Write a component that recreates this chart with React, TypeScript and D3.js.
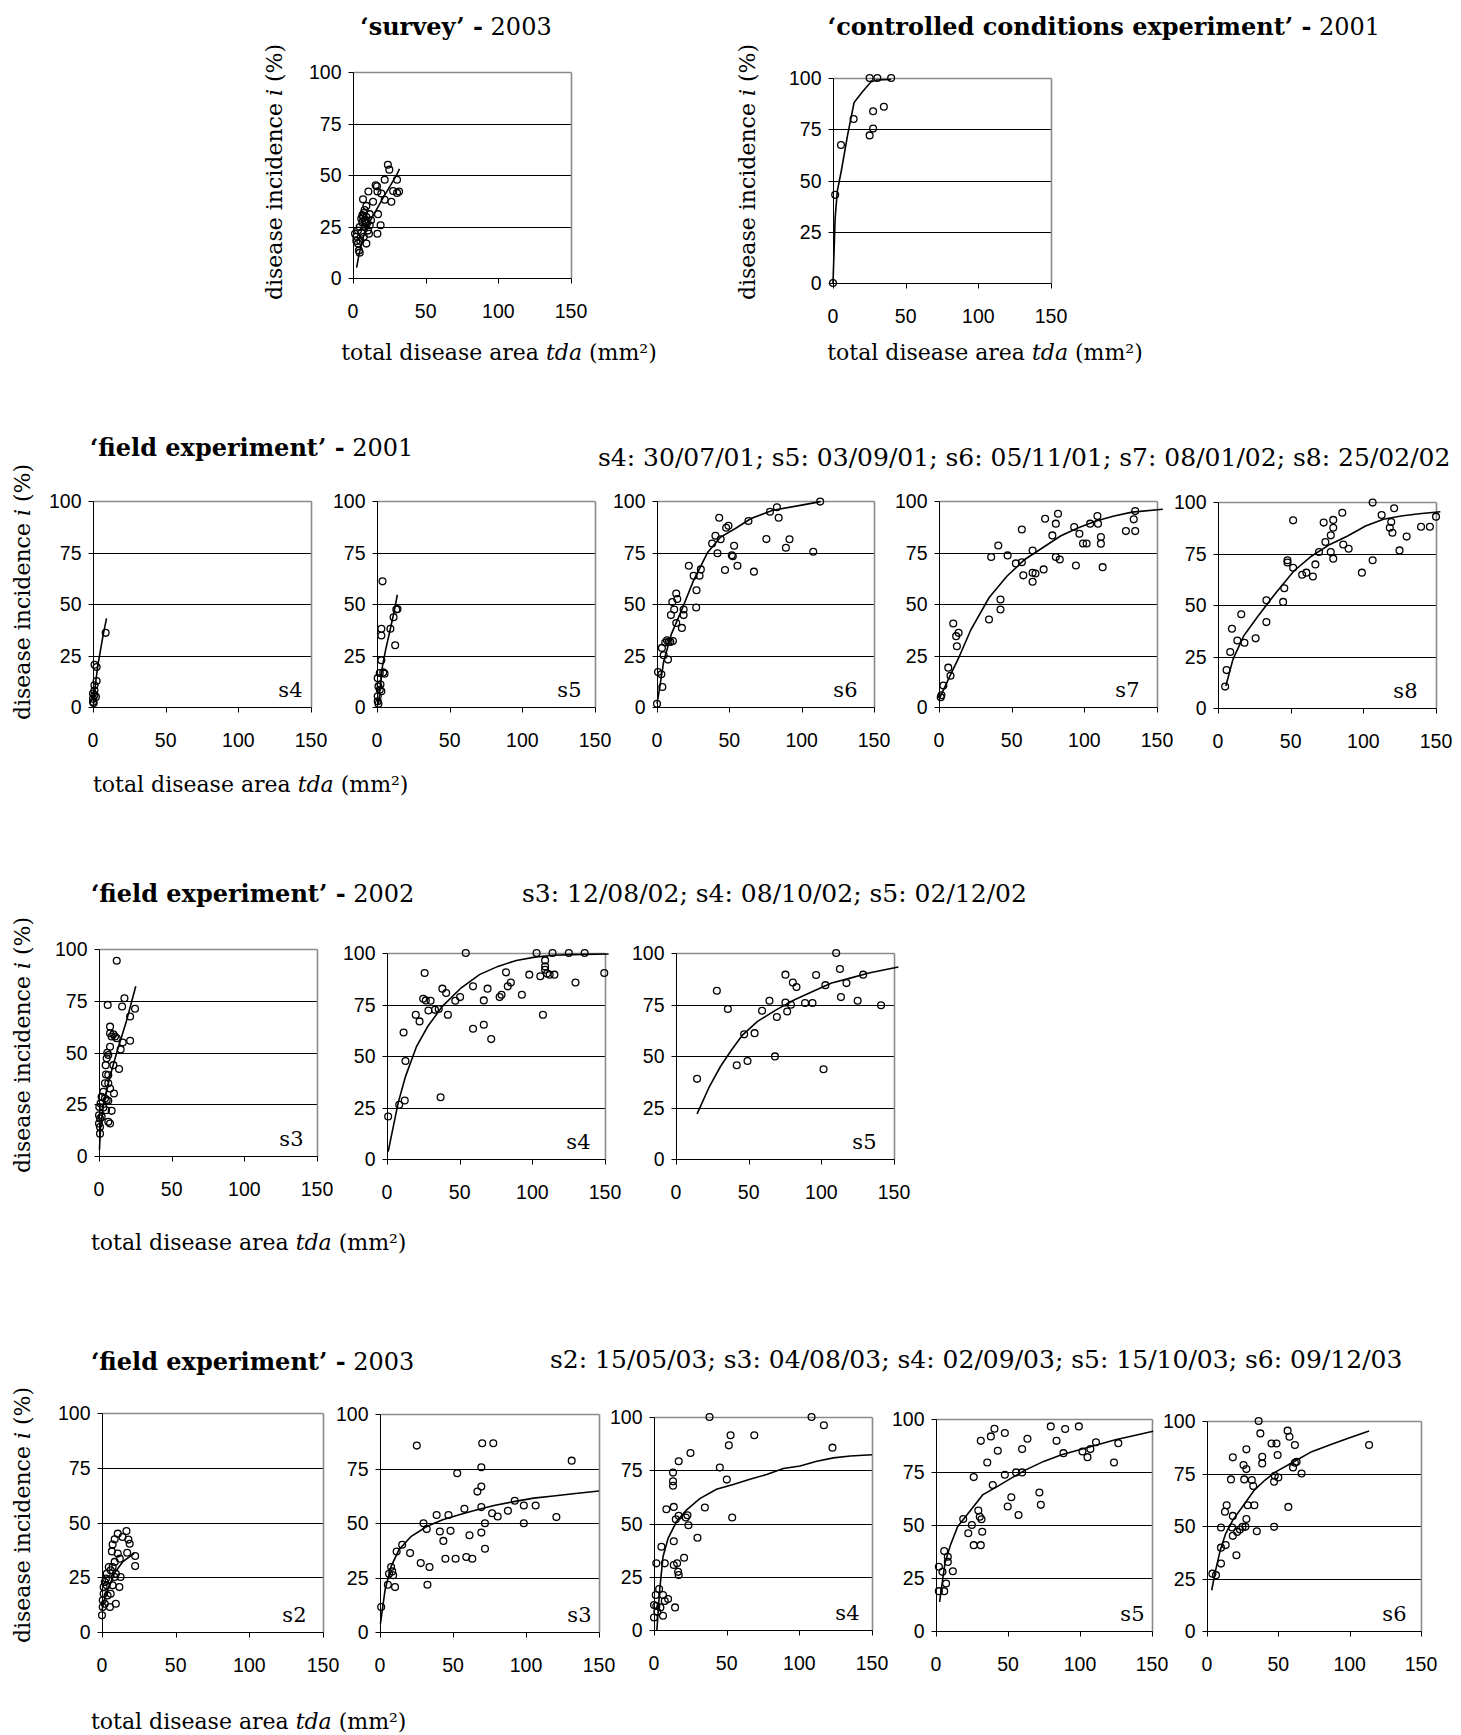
import React from "react";
import * as d3 from "d3";

type Pt = [number, number];

// ---------- shared axis values ----------
const xTickValues = [0, 50, 100, 150];
const yTickValues = [0, 25, 50, 75, 100];
const xDomain: [number, number] = [0, 150];
const yDomain: [number, number] = [0, 100];

// ---------- text ----------
const yAxisTitle = ["disease incidence ", "i", " (%)"];
const xAxisTitle = ["total disease area ", "tda", " (mm²)"];
const dates2001 = "s4: 30/07/01; s5: 03/09/01; s6: 05/11/01; s7: 08/01/02; s8: 25/02/02";
const dates2002 = "s3: 12/08/02; s4: 08/10/02; s5: 02/12/02";
const dates2003 = "s2: 15/05/03; s3: 04/08/03; s4: 02/09/03; s5: 15/10/03; s6: 09/12/03";

// ---------- survey 2003 ----------
const survey2003Points: Pt[] = [
  [1.4, 21.5], [2.3, 18], [2.3, 20], [3.4, 16.7], [3.4, 23], [4.1, 13.4], [4.6, 12.3], [4.6, 24.7],
  [5, 18], [5.7, 22], [5.7, 28.8], [6.4, 27], [6.9, 38.2], [7, 29.6], [7.4, 20], [8, 24.8], [8, 28],
  [8, 33], [9.2, 35], [9.2, 16.7], [9.2, 29.6], [9.6, 26.4], [10.3, 23], [10.6, 42], [11, 21.5],
  [11.5, 31], [11.5, 25.6], [12.4, 28], [13.8, 37], [15.6, 45], [16.5, 44.5], [16.8, 42], [16.8, 21.5],
  [17.2, 31], [19, 25.6], [19.5, 41], [21.8, 47.7], [21.8, 38], [24, 55], [25, 52.6], [26.4, 37],
  [27.6, 42.2], [30.3, 47.7], [30.3, 41.3], [31.7, 42], [6.5, 30.5], [7.5, 31.5], [9, 27]
];
const survey2003Fit: Pt[] = [
  [2.5, 5], [4, 11], [6, 17], [8, 22], [12, 28], [16, 33], [20, 38], [25, 44], [30, 50], [32, 53]
];

// ---------- controlled conditions 2001 ----------
const controlled2001Points: Pt[] = [
  [0, 0], [1.5, 43], [5.5, 67.3], [14.2, 80], [25.2, 100], [30.5, 100], [40, 100], [27.6, 83.8],
  [35, 86], [27.6, 75.4], [25.2, 72]
];
const controlled2001Fit: Pt[] = [
  [0, 0], [1.5, 32], [3, 45], [5.8, 55], [10, 72], [14.5, 88], [20, 93], [26, 98], [30, 99], [40, 99.3]
];

// ---------- field 2001 ----------
const field2001s4Points: Pt[] = [
  [8.7, 36], [1.1, 20.5], [2.5, 19.4], [2.5, 12.6], [1, 10.5], [0, 6.5], [1, 5.7], [0, 4], [0.5, 2],
  [1, 8], [0, 2.4], [2, 4.9]
];
const field2001s4Fit: Pt[] = [[0.3, 1], [1, 6], [2, 13], [3.3, 20], [5, 27], [7, 35], [9.3, 43]];

const field2001s5Points: Pt[] = [
  [3.8, 61], [3, 38], [3, 34.7], [9.2, 38], [11.4, 43.6], [13.3, 47.3], [14.1, 47.6], [12.5, 30],
  [3, 22.7], [1.9, 16.5], [4.3, 16.8], [5.2, 16.2], [0.5, 14], [1, 10], [1.9, 8.4], [3, 7.6],
  [0.5, 5.2], [0.5, 2.8], [1, 1.6], [2.4, 10.9]
];
const field2001s5Fit: Pt[] = [[1, 1], [2, 8], [3.8, 20], [6, 28], [9.2, 38], [12, 47], [14, 54.5]];

const field2001s6Points: Pt[] = [
  [0, 1.6], [0.7, 17], [3, 15.9], [3.7, 9.7], [3.4, 28.7], [4.6, 25.1], [5.7, 31.3], [6.9, 32.4],
  [8, 31.6], [7.6, 23], [9.2, 31.6], [11, 32], [9.6, 44.6], [10.6, 51], [11.9, 47.3], [13.3, 55.1],
  [14, 52.4], [13.3, 40.8], [17.2, 38.4], [18.4, 47.3], [18.4, 44.6], [22, 68.6], [25.3, 63.7],
  [27.3, 56.7], [27.1, 48.3], [29.4, 63.7], [30.3, 66.8], [38.1, 79.4], [40.4, 83.1], [43, 91.9],
  [41.8, 74.6], [44, 81.4], [47, 66.5], [47.8, 87], [49.4, 88], [51.7, 73.7], [53.3, 78.3],
  [52.4, 73.2], [55.6, 68.6], [63.2, 90.3], [67, 65.7], [75.6, 81.5], [78.1, 94.8], [82.9, 97],
  [84.1, 91.9], [89.1, 77.3], [91.6, 81.4], [108, 75.4], [112.8, 99.7]
];
const field2001s6Fit: Pt[] = [
  [0, 1.6], [2, 10], [4.6, 22], [10, 35.5], [17, 47], [25, 61], [35, 75], [44, 82.5], [55, 87],
  [65, 91.5], [80, 95.5], [100, 98], [113, 99.7]
];

const field2001s7Points: Pt[] = [
  [1.2, 4.7], [1.7, 5.7], [3, 10.4], [6.4, 19.1], [7.9, 15.2], [9.8, 40.5], [11.8, 34.4], [13.5, 36],
  [12.3, 29.5], [34.4, 42.5], [35.9, 72.8], [40.8, 78.4], [42.3, 52.2], [42.3, 47.3], [47.2, 73.6],
  [52.9, 69.7], [57, 70.3], [57, 86.2], [58, 63.9], [64.4, 76], [64.4, 65.2], [64.4, 60.8],
  [66.4, 64.8], [72, 66.8], [73, 91.4], [78, 83.3], [80.4, 89], [81.9, 93.8], [80.4, 72.8],
  [83.1, 71.6], [93, 87.4], [94.2, 68.7], [96.6, 84.1], [99.1, 79.4], [101.6, 79.4], [104, 89],
  [109, 92.7], [109.4, 89], [111.4, 82.5], [111.4, 79.3], [112.6, 67.9], [128.6, 85.4],
  [134, 91.1], [135, 95.1], [135, 85.4]
];
const field2001s7Fit: Pt[] = [
  [0.5, 4.4], [7.4, 14.9], [13.5, 23.8], [22, 37.6], [34.4, 53], [46.7, 63.5], [59, 71.6],
  [71.3, 77.3], [83.6, 83], [95.9, 87], [108, 90.3], [120.5, 92.7], [132.8, 94.6], [154, 96]
];

const field2001s8Points: Pt[] = [
  [4.9, 10.4], [5.9, 18.4], [8.4, 27.2], [9.6, 38.5], [13.3, 32.8], [16, 45.5], [18.2, 31.7],
  [25.9, 33.8], [33.3, 52.3], [33.3, 41.7], [44.8, 51.5], [45.6, 58.1], [47.8, 71.7], [47.8, 70.6],
  [51.7, 91.1], [51.7, 68.1], [57.9, 64.7], [60.8, 65.7], [65.3, 63.8], [67, 69.7], [69.5, 75.7],
  [72.7, 90], [73.9, 80.6], [77.6, 83.8], [77.6, 75.7], [79.3, 91.3], [79.3, 87.5], [79.3, 72.5],
  [85.5, 94.8], [86.2, 79.4], [89.9, 77.3], [99, 65.7], [106.4, 99.7], [106.4, 71.7], [112.6, 93.7],
  [118.2, 87.5], [119.2, 90.3], [120, 85.1], [121.2, 97], [124.9, 76.5], [129.8, 83.2],
  [139.7, 88], [145.8, 88], [150, 92.9]
];
const field2001s8Fit: Pt[] = [
  [5.4, 10.7], [10.3, 23.6], [17.7, 35], [27.6, 44.7], [39.9, 56], [52.2, 66.5], [64.5, 73.8],
  [77, 79.4], [89.2, 83.5], [101.5, 88.3], [113.8, 91.6], [126, 93.2], [138.4, 94.3], [153, 95.3]
];

// ---------- field 2002 ----------
const field2002s3Points: Pt[] = [
  [12.2, 94.3], [6, 73], [7.6, 62.5], [7.6, 59.3], [8.7, 57.7], [9.9, 58.8], [11, 57.7], [12.2, 56.9],
  [17.5, 76.2], [15.9, 72.2], [21.4, 67.4], [24.8, 71.1], [21.4, 55.7], [16.3, 54.8], [14.9, 51.5],
  [13.8, 42], [7.6, 52.8], [6.4, 48.8], [5.3, 47.2], [5.7, 49.9], [4.6, 43.9], [9.9, 43.9],
  [4.8, 39.4], [6.4, 39.1], [4.1, 35.1], [6.4, 35.1], [7.6, 32.6], [10.3, 30.2], [3, 31],
  [1.8, 28.6], [4.1, 27.8], [5.3, 27], [6.4, 26.7], [1.1, 25.4], [0.2, 23.7], [3, 23.4], [4.8, 22.1],
  [8.7, 21.8], [0, 19.7], [0.7, 18.1], [1.8, 18.9], [6.4, 16.5], [7.6, 15.7], [0, 15.7], [0.7, 10.8],
  [0.7, 14]
];
const field2002s3Fit: Pt[] = [[0.3, 3], [1, 13], [3, 25], [7.6, 38.5], [12, 49.5], [19, 65.5], [25.3, 82]];

const field2002s4Points: Pt[] = [
  [0.8, 20.6], [8.4, 26.3], [12.2, 28.4], [11.4, 61.4], [12.7, 47.6], [19.8, 70], [22.4, 66.8],
  [24.9, 77.8], [25.9, 90.3], [26.7, 77], [28.5, 72.1], [30, 76.8], [33, 72.4], [35.6, 72.8],
  [36.9, 30], [38.1, 82.7], [40.7, 80.6], [41.9, 70], [47, 76.8], [50.3, 78.6], [54.2, 100],
  [59.2, 83.8], [59.2, 63.2], [66.6, 77], [66.6, 65.2], [69.2, 82.7], [71.7, 58.2], [77.5, 78.6],
  [78.8, 79.7], [81.9, 90.6], [83.1, 83.8], [85.2, 85.7], [92.8, 79.7], [97.9, 89.5], [102.9, 100],
  [105.5, 88.7], [107.3, 70], [108.8, 96.4], [108.8, 93.5], [108.8, 91.9], [110.1, 90], [111.9, 89.5],
  [113.9, 100], [115.2, 89.5], [125.1, 100], [129.7, 85.7], [136, 100], [149.5, 90.3]
];
const field2002s4Fit: Pt[] = [
  [0.8, 3.6], [7.6, 27], [12.7, 40], [20.3, 54.6], [28, 64.3], [38.1, 74.1], [50.9, 83], [63.6, 89.5],
  [76.3, 93.5], [89, 96.4], [101.7, 98], [114.4, 98.9], [127.1, 99.2], [152.5, 99.5]
];

const field2002s5Points: Pt[] = [
  [14.5, 38.9], [28.1, 81.7], [35.7, 72.8], [41.8, 45.5], [46.9, 60.5], [49.2, 47.6], [54.1, 61.1],
  [59.2, 72], [64.3, 76.8], [68.1, 49.8], [69.4, 68.9], [75.3, 89.5], [75.3, 76], [76.5, 71.6],
  [79.1, 74.9], [80.4, 85.7], [82.9, 83.5], [88.8, 75.7], [93.9, 75.7], [96.4, 89.3], [101.5, 43.6],
  [102.8, 84.4], [110.2, 100], [112.8, 92.2], [113.5, 78.6], [117.3, 85.4], [125, 76.8],
  [128.8, 89.5], [141.1, 74.6]
];
const field2002s5Fit: Pt[] = [
  [14.5, 21.9], [23, 35.2], [30.6, 44.9], [38.3, 53], [45.9, 60.3], [56.1, 66.8], [68.9, 72.4],
  [81.6, 77.3], [94.4, 81.4], [107.1, 85.4], [119.9, 87.8], [132.7, 90.3], [153, 93.2]
];

// ---------- field 2003 ----------
const field2003s2Points: Pt[] = [
  [0, 7.6], [16.6, 46.1], [10.7, 44.9], [8.6, 42.3], [7.2, 39.9], [6.7, 36.8], [13.9, 43.4],
  [17.9, 42.2], [18.8, 40.3], [17.1, 36.2], [22.5, 34.7], [22.5, 30.1], [10.7, 35.8], [12.1, 33.5],
  [12.6, 25.1], [11.8, 20.5], [9.4, 12.9], [5.4, 11.4], [4.6, 29.7], [5.9, 28.2], [7.2, 29.7],
  [8.6, 32], [3.2, 26.6], [2.7, 24.4], [1.9, 22.8], [1.1, 20.5], [3.2, 21.3], [4.6, 23.6], [7.2, 21.3],
  [5.9, 17.5], [1.1, 17.5], [0.5, 14.5], [1.9, 12.9], [3.8, 16.7], [8.6, 25.1], [9.4, 26.6],
  [0.5, 11.4]
];
const field2003s2Fit: Pt[] = [[0, 10], [2, 16], [4.6, 20.5], [8.6, 27], [14, 32], [22, 36]];

const field2003s3Points: Pt[] = [
  [0.8, 11.5], [5.4, 21.7], [6.2, 26.7], [7.6, 29.8], [8.4, 27.8], [9, 26], [10.3, 20.6], [11.4, 36.9],
  [15.2, 40], [20.6, 36.2], [25.2, 85.5], [27.9, 31.6], [29.8, 49.9], [32, 47.2], [32.5, 21.7],
  [33.9, 29.8], [38.8, 53.7], [41, 46.1], [43.4, 41.8], [44.8, 33.6], [46.9, 53.7], [48.3, 46.4],
  [51.8, 33.6], [52.9, 72.8], [57.8, 56.5], [59.1, 34.4], [61.3, 44.4], [63.2, 33.6], [66.7, 64.4],
  [69.4, 66.7], [69.4, 75.6], [70, 86.6], [69.4, 57.3], [69.4, 45.6], [71.9, 49.9], [71.9, 38.2],
  [76.8, 54.5], [77.6, 86.6], [80.6, 53], [87.6, 55.6], [92.3, 60.2], [98.5, 58], [98.5, 49.9],
  [106.6, 58], [120.8, 52.7], [131.3, 78.6]
];
const field2003s3Fit: Pt[] = [
  [0.3, 3.8], [3.5, 19.4], [7.6, 30.1], [13, 37.7], [21.2, 43.8], [32, 48.4], [42.9, 51.5],
  [53.7, 53.7], [64.6, 55.7], [78.1, 58], [91.7, 59.8], [105.2, 61.4], [118.8, 62.4], [132.3, 63.4],
  [150, 64.7]
];

const field2003s4Points: Pt[] = [
  [0, 5.9], [0, 11.7], [1.2, 16.4], [1.6, 11.3], [2.3, 8.6], [3.5, 19.2], [4.4, 10.6], [6.2, 16.4],
  [6.2, 6.7], [7.4, 13.6], [9.7, 14.5], [1.6, 31.3], [5.1, 39.1], [7.4, 31.3], [8.5, 56.7],
  [13.1, 73.9], [13.1, 69.8], [13.1, 67.7], [13.6, 57.8], [13.6, 41.7], [13.6, 30.5], [14.5, 10.6],
  [15, 52], [15.9, 31.3], [16.6, 27.3], [17, 79.2], [17, 53.6], [17, 25.8], [20.7, 33.9], [21.9, 52.8],
  [23, 53.9], [23.7, 49.2], [25.1, 83.1], [29.9, 43.3], [35, 57.5], [38.2, 100], [45.3, 76.3],
  [50.1, 70.6], [51.5, 86.7], [52.7, 91.4], [53.8, 52.8], [69, 91.4], [108.4, 100], [116.9, 96.1],
  [122.8, 85.6]
];
const field2003s4Fit: Pt[] = [
  [2, 0], [3.9, 18.8], [6.2, 34.4], [9.7, 43], [15.4, 50.8], [22.3, 56.3], [31.5, 61.7], [43, 66.1],
  [54.5, 68.3], [66, 70.8], [77.5, 73], [89, 75.8], [100.5, 77], [112, 79.2], [123.5, 80.8],
  [135, 81.7], [150, 82.3]
];

const field2003s5Points: Pt[] = [
  [2, 30.3], [2, 18.8], [4.5, 27.9], [5.7, 18.8], [5.7, 37.7], [7, 22.4], [8.2, 35], [8.2, 32.6],
  [11.7, 28.2], [18.9, 52.8], [22.4, 46.1], [24.9, 50], [26.2, 40.5], [26.2, 72.6], [29.4, 56.8],
  [30.4, 53.9], [31.6, 52.7], [32.1, 46.8], [31.1, 40.5], [31.1, 89.7], [35.6, 79.5], [38.1, 91.8],
  [39.4, 68.9], [40.6, 95.4], [42.9, 85], [47.8, 93.4], [47.8, 73.7], [49.8, 58.7], [52.3, 63.1],
  [55.6, 74.8], [57.3, 54.7], [59.8, 74.8], [59.8, 85.8], [63.5, 90.7], [71.8, 65.3], [72.8, 59.5],
  [79.7, 96.5], [83.7, 89.7], [88.5, 83.9], [89.7, 95.3], [99.2, 96.5], [101.7, 84.7], [105.2, 82],
  [107.2, 85.8], [111.1, 89], [123.6, 79.5], [126.6, 88.6]
];
const field2003s5Fit: Pt[] = [
  [2.5, 13.7], [6.2, 31.9], [10, 40.5], [15, 49.2], [22.4, 55.5], [32.4, 64.2], [42.4, 68.1],
  [52.3, 72.1], [62.3, 76], [74.8, 80], [87.2, 83.1], [99.7, 85.5], [112.1, 87.9], [124.6, 90.2],
  [137, 92.1], [150.8, 94.2]
];

const field2003s6Points: Pt[] = [
  [3.8, 27.3], [6.3, 26.6], [9.8, 32.1], [9.8, 39.7], [9.8, 49.3], [13.1, 40.9], [12.6, 56.8],
  [13.8, 59.9], [16.8, 72.2], [18.1, 82.7], [17.6, 49.3], [18.1, 45.3], [18.1, 54.8], [20.6, 36.1],
  [21.1, 47.2], [23.1, 48.3], [24.9, 49.6], [25.6, 79], [26.1, 72.2], [26.9, 49.6], [27.6, 77.1],
  [27.6, 86.5], [27.6, 53.3], [28.6, 59.9], [31.4, 71.9], [32.4, 69], [33.2, 59.9], [34.9, 47.5],
  [36.2, 100], [37.4, 94.1], [38.7, 83], [38.7, 79.8], [45.2, 89.3], [47, 49.6], [47, 71.1],
  [47.5, 73.9], [48.7, 89.3], [49.5, 83.8], [50, 73.1], [56.5, 95.4], [57.8, 92.5], [57, 59.1],
  [60.3, 77.9], [61.6, 88.6], [61.6, 80.1], [62.8, 80.6], [66.3, 75], [113.6, 88.6]
];
const field2003s6Fit: Pt[] = [
  [3.3, 19.4], [5.5, 27.3], [9.3, 38.5], [13.1, 46.4], [18.1, 52.8], [25.6, 59.9], [33.2, 67.1],
  [40.7, 71.9], [48.2, 75.8], [60.8, 80.6], [73.4, 85.4], [85.9, 88.6], [98.5, 91.7], [113.6, 95.2]
];

// ---------- layout (positions only) ----------
interface PanelSpec {
  left: number; top: number; width: number; height: number;
  points: Pt[]; fit: Pt[]; tag?: string; tagPad?: number;
}

const panels: PanelSpec[] = [
  { left: 353, top: 72, width: 218, height: 206, points: survey2003Points, fit: survey2003Fit },
  { left: 833, top: 78, width: 218, height: 205, points: controlled2001Points, fit: controlled2001Fit },

  { left: 93, top: 501, width: 218, height: 206, points: field2001s4Points, fit: field2001s4Fit, tag: "s4", tagPad: 9 },
  { left: 377, top: 501, width: 218, height: 206, points: field2001s5Points, fit: field2001s5Fit, tag: "s5", tagPad: 14 },
  { left: 657, top: 501, width: 217, height: 206, points: field2001s6Points, fit: field2001s6Fit, tag: "s6", tagPad: 17 },
  { left: 939, top: 501, width: 218, height: 206, points: field2001s7Points, fit: field2001s7Fit, tag: "s7", tagPad: 18 },
  { left: 1218, top: 502, width: 218, height: 206, points: field2001s8Points, fit: field2001s8Fit, tag: "s8", tagPad: 19 },

  { left: 99, top: 949, width: 218, height: 207, points: field2002s3Points, fit: field2002s3Fit, tag: "s3", tagPad: 14 },
  { left: 387, top: 953, width: 218, height: 206, points: field2002s4Points, fit: field2002s4Fit, tag: "s4", tagPad: 15 },
  { left: 676, top: 953, width: 218, height: 206, points: field2002s5Points, fit: field2002s5Fit, tag: "s5", tagPad: 18 },

  { left: 102, top: 1413, width: 221, height: 219, points: field2003s2Points, fit: field2003s2Fit, tag: "s2", tagPad: 17 },
  { left: 380, top: 1414, width: 219, height: 218, points: field2003s3Points, fit: field2003s3Fit, tag: "s3", tagPad: 8 },
  { left: 654, top: 1417, width: 218, height: 213, points: field2003s4Points, fit: field2003s4Fit, tag: "s4", tagPad: 13 },
  { left: 936, top: 1419, width: 216, height: 212, points: field2003s5Points, fit: field2003s5Fit, tag: "s5", tagPad: 8 },
  { left: 1207, top: 1421, width: 214, height: 210, points: field2003s6Points, fit: field2003s6Fit, tag: "s6", tagPad: 15 },
];

const SERIF = "'DejaVu Serif', serif";
const SANS = "'Liberation Sans', Arial, sans-serif";

function Panel({ p }: { p: PanelSpec }) {
  const xs = d3.scaleLinear().domain(xDomain).range([p.left, p.left + p.width]);
  const ys = d3.scaleLinear().domain(yDomain).range([p.top + p.height, p.top]);
  const line = d3.line<Pt>().x((d) => xs(d[0])).y((d) => ys(d[1]));
  const cr = (v: number) => Math.round(v) + 0.5;
  const x0 = cr(xs(0));
  const x1 = cr(xs(150));
  const y0 = cr(ys(0));
  const y1 = cr(ys(100));
  return (
    <g>
      {yTickValues.filter((t) => t > 0 && t < 100).map((t) => (
        <line key={"g" + t} x1={x0} x2={x1} y1={cr(ys(t))} y2={cr(ys(t))} stroke="#000" strokeWidth={1} />
      ))}
      <line x1={x0} x2={x1} y1={y1} y2={y1} stroke="#8a8a8a" strokeWidth={1.6} />
      <line x1={x1} x2={x1} y1={y1} y2={y0} stroke="#8a8a8a" strokeWidth={1.6} />
      <line x1={x0} x2={x0} y1={y1} y2={y0} stroke="#000" strokeWidth={1} />
      <line x1={x0} x2={x1} y1={y0} y2={y0} stroke="#000" strokeWidth={1} />
      {yTickValues.map((t) => (
        <g key={"y" + t}>
          <line x1={x0 - 5} x2={x0} y1={cr(ys(t))} y2={cr(ys(t))} stroke="#000" strokeWidth={1} />
          <text x={x0 - 12} y={ys(t)} dy="0.36em" textAnchor="end" fontFamily={SANS} fontSize={19.5} fill="#000">
            {t}
          </text>
        </g>
      ))}
      {xTickValues.map((t) => (
        <g key={"x" + t}>
          <line x1={cr(xs(t))} x2={cr(xs(t))} y1={y0} y2={y0 + 5} stroke="#000" strokeWidth={1} />
          <text x={xs(t)} y={y0 + 39} textAnchor="middle" fontFamily={SANS} fontSize={19.5} fill="#000">
            {t}
          </text>
        </g>
      ))}
      <path d={line(p.fit) || ""} fill="none" stroke="#000" strokeWidth={1.6} />
      {p.points.map((d, i) => (
        <circle key={i} cx={xs(d[0])} cy={ys(d[1])} r={3.4} fill="none" stroke="#000" strokeWidth={1.3} />
      ))}
      {p.tag && (
        <text x={x1 - (p.tagPad || 14)} y={y0 - 11} textAnchor="end" fontFamily={SERIF} fontSize={21} fill="#000">
          {p.tag}
        </text>
      )}
    </g>
  );
}

function YTitle({ x, y }: { x: number; y: number }) {
  return (
    <text transform={`translate(${x},${y}) rotate(-90)`} textAnchor="middle" fontFamily={SERIF} fontSize={22} fill="#000">
      {yAxisTitle[0]}
      <tspan fontStyle="italic">{yAxisTitle[1]}</tspan>
      {yAxisTitle[2]}
    </text>
  );
}

function XTitle({ x, y, anchor }: { x: number; y: number; anchor: string }) {
  return (
    <text x={x} y={y} textAnchor={anchor} fontFamily={SERIF} fontSize={22} fill="#000">
      {xAxisTitle[0]}
      <tspan fontStyle="italic">{xAxisTitle[1]}</tspan>
      {xAxisTitle[2]}
    </text>
  );
}

function Title({ x, y, bold, year, anchor }: { x: number; y: number; bold: string; year: string; anchor: string }) {
  return (
    <text x={x} y={y} textAnchor={anchor} fontFamily={SERIF} fontSize={24} fill="#000">
      <tspan fontWeight="bold">{bold}</tspan>
      {year}
    </text>
  );
}

export default function App() {
  return (
    <svg
      width={1461}
      height={1735}
      style={{ position: "absolute", left: 0, top: 0, background: "#fff" }}
    >
      <rect x={0} y={0} width={1461} height={1735} fill="#fff" />
      <Title x={456} y={35} bold={"‘survey’ -"} year={" 2003"} anchor="middle" />
      <Title x={1104} y={35} bold={"‘controlled conditions experiment’ -"} year={" 2001"} anchor="middle" />
      <YTitle x={282} y={172} />
      <YTitle x={755} y={172} />
      <XTitle x={499} y={360} anchor="middle" />
      <XTitle x={985} y={360} anchor="middle" />

      <Title x={90} y={456} bold={"‘field experiment’ -"} year={" 2001"} anchor="start" />
      <text x={598} y={466} fontFamily={SERIF} fontSize={25} fill="#000">{dates2001}</text>
      <YTitle x={30} y={592} />
      <XTitle x={93} y={792} anchor="start" />

      <Title x={91} y={902} bold={"‘field experiment’ -"} year={" 2002"} anchor="start" />
      <text x={522} y={902} fontFamily={SERIF} fontSize={25} fill="#000">{dates2002}</text>
      <YTitle x={30} y={1045} />
      <XTitle x={91} y={1250} anchor="start" />

      <Title x={91} y={1370} bold={"‘field experiment’ -"} year={" 2003"} anchor="start" />
      <text x={550} y={1368} fontFamily={SERIF} fontSize={25} fill="#000">{dates2003}</text>
      <YTitle x={30} y={1515} />
      <XTitle x={91} y={1729} anchor="start" />

      {panels.map((p, i) => (
        <Panel key={i} p={p} />
      ))}
    </svg>
  );
}
